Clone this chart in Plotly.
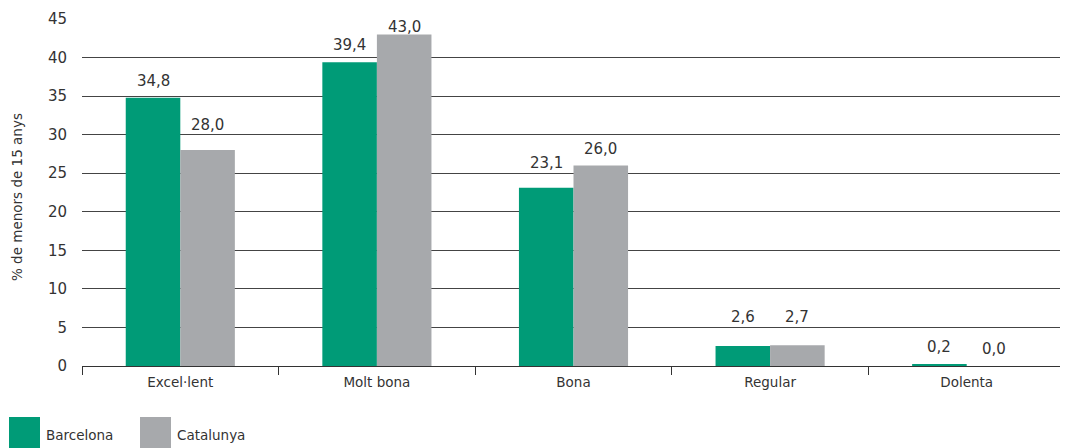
import plotly.graph_objects as go

categories = ["Excel·lent", "Molt bona", "Bona", "Regular", "Dolenta"]
barcelona = [34.8, 39.4, 23.1, 2.6, 0.2]
catalunya = [28.0, 43.0, 26.0, 2.7, 0.0]
series_names = ["Barcelona", "Catalunya"]
y_ticks = [0, 5, 10, 15, 20, 25, 30, 35, 40, 45]
y_title = "% de menors de 15 anys"

GREEN = "#009B77"
GRAY = "#A7A9AC"
TXT = "#333333"
FONT = "DejaVu Sans, Liberation Sans, sans-serif"
BARGAP = 0.445
Y_MAX = 45

def fmt(v):
    return f"{v:.1f}".replace(".", ",")

fig = go.Figure()
for name, vals, col in [(series_names[0], barcelona, GREEN), (series_names[1], catalunya, GRAY)]:
    fig.add_trace(go.Bar(
        x=categories, y=vals, name=name, marker=dict(color=col, line=dict(width=0)),
        showlegend=False,
    ))

# page has an 8px body margin; figure is sized/placed to compensate
W, H = 1060, 440
ML, MR, MT, MB = 74, 3, 11, 82
fig.update_layout(
    width=W, height=H,
    margin=dict(l=ML, r=MR, t=MT, b=MB, autoexpand=False),
    paper_bgcolor="white", plot_bgcolor="white",
    barmode="group", bargap=BARGAP, bargroupgap=0,
    font=dict(family=FONT, size=14, color=TXT),
)
fig.update_xaxes(
    type="category", automargin=False, showline=True, linecolor="#333333", linewidth=1,
    tickson="boundaries", ticks="outside", ticklen=8, tickcolor="#333333",
    ticklabelstandoff=4,
    tickfont=dict(size=13.5, color=TXT), showgrid=False, zeroline=False,
)
fig.update_yaxes(
    range=[0, Y_MAX], tickvals=y_ticks, automargin=False, showgrid=True,
    gridcolor="#444444", gridwidth=1,
    zeroline=False, showline=False, ticks="", ticklabelstandoff=14,
    tickfont=dict(size=15, color=TXT),
)

# value labels above bars, nudged off gridlines (as in the original layout)
plot_w = W - ML - MR
plot_h = H - MT - MB
units_per_px = Y_MAX / plot_h
half_bar = plot_w / len(categories) * (1 - BARGAP) / 4

def label_y(v):
    y = v + 17 * units_per_px
    g = min(y_ticks, key=lambda t: abs(t - y))
    if g > 0 and abs(y - g) < 8 * units_per_px:
        y = g + 10 * units_per_px
        if y > Y_MAX - 8 * units_per_px:
            y = g - 8 * units_per_px
    return y

for vals, sgn in [(barcelona, -1), (catalunya, 1)]:
    for c, v in zip(categories, vals):
        fig.add_annotation(x=c, y=label_y(v), text=fmt(v), showarrow=False,
                           xshift=sgn * half_bar,
                           xanchor="center", yanchor="middle",
                           font=dict(size=15, color=TXT, family=FONT))

def px_x(p):
    return (p - 82) / 983.0

def px_y(p):
    return (366 - p) / 347.0

fig.add_annotation(xref="paper", yref="paper", x=px_x(17), y=px_y(197),
                   text=y_title, textangle=-90, showarrow=False,
                   xanchor="center", yanchor="middle",
                   font=dict(size=13.5, color=TXT, family=FONT))

legend_items = [(series_names[0], GREEN, 9), (series_names[1], GRAY, 140)]
for name, col, x0 in legend_items:
    fig.add_shape(type="rect", xref="paper", yref="paper",
                  x0=px_x(x0), x1=px_x(x0 + 31), y0=px_y(417), y1=px_y(448),
                  fillcolor=col, line=dict(width=0))
    fig.add_annotation(xref="paper", yref="paper", x=px_x(x0 + 35), y=px_y(435),
                       text=name, showarrow=False, xanchor="left", yanchor="middle",
                       font=dict(size=13.5, color=TXT, family=FONT))

fig.write_html("out.html")
